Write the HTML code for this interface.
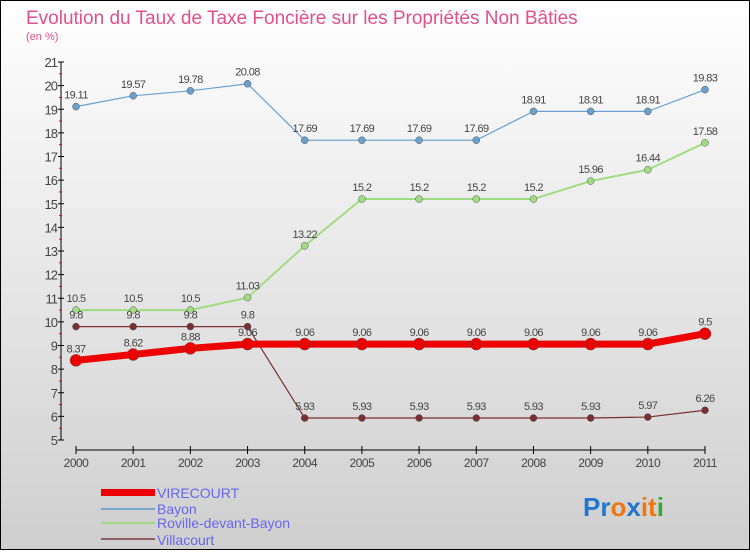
<!DOCTYPE html>
<html><head><meta charset="utf-8"><style>
body{margin:0;width:750px;height:550px;overflow:hidden;font-family:"Liberation Sans",sans-serif}
svg text{font-family:"Liberation Sans",sans-serif}
</style></head><body>
<svg id="c" width="750" height="550">
<defs><linearGradient id="bg" x1="0" y1="0" x2="0" y2="1"><stop offset="0" stop-color="#ffffff"/><stop offset="1" stop-color="#cfcfcf"/></linearGradient></defs>
<rect x="0" y="0" width="750" height="550" fill="url(#bg)" stroke="#000" stroke-width="2"/>
<text x="26" y="24" font-size="19" fill="#e0508a">Evolution du Taux de Taxe Foncière sur les Propriétés Non Bâties</text>
<text x="26" y="40" font-size="11" fill="#e0508a">(en %)</text>
<g id="g"></g>
<g>
<rect x="101" y="489" width="54" height="7" fill="#ee0000"/>
<text x="157" y="498" font-size="14" fill="#6666ee">VIRECOURT</text>
<rect x="101" y="508" width="54" height="2" fill="#7aa6cc"/>
<text x="157" y="514" font-size="14" fill="#6666ee">Bayon</text>
<rect x="101" y="522" width="54" height="2" fill="#a0d880"/>
<text x="157" y="528" font-size="14" fill="#6666ee">Roville-devant-Bayon</text>
<rect x="101" y="538" width="54" height="2" fill="#906060"/>
<text x="157" y="545" font-size="14" fill="#6666ee">Villacourt</text>
</g>
<text x="583" y="516" font-size="26" font-weight="bold"><tspan fill="#2277cc">Pr</tspan><tspan fill="#ee7711">o</tspan><tspan fill="#2277cc">x</tspan><tspan fill="#ee7711">it</tspan><tspan fill="#33aa33">i</tspan></text>
</svg>
<script>
const years=[2000,2001,2002,2003,2004,2005,2006,2007,2008,2009,2010,2011];
const virecourt=[8.37,8.62,8.88,9.06,9.06,9.06,9.06,9.06,9.06,9.06,9.06,9.5];
const bayon=[19.11,19.57,19.78,20.08,17.69,17.69,17.69,17.69,18.91,18.91,18.91,19.83];
const roville=[10.5,10.5,10.5,11.03,13.22,15.2,15.2,15.2,15.2,15.96,16.44,17.58];
const villacourt=[9.8,9.8,9.8,9.8,5.93,5.93,5.93,5.93,5.93,5.93,5.97,6.26];
const yTicks=[5,6,7,8,9,10,11,12,13,14,15,16,17,18,19,20,21];
const NS="http://www.w3.org/2000/svg";
const g=document.getElementById('g');
const x=i=>76+i*(705-76)/(years.length-1);
const y=v=>440-(v-5)*(440-62)/16;
function el(t,a,p){const e=document.createElementNS(NS,t);for(const k in a)e.setAttribute(k,a[k]);(p||g).appendChild(e);return e;}
// axes
let e=el('line',{x1:61,y1:y(21),x2:61,y2:y(5),stroke:'#000','stroke-width':1});


yTicks.forEach(v=>{
 let t=el('line',{x1:58,x2:64,y1:y(v),y2:y(v),stroke:'#000'});
 
 
 if(v<21){let m=el('line',{x1:59,x2:62,y1:y(v+0.5),y2:y(v+0.5),stroke:'#e00'});
 
 }
 let l=el('text',{x:57,y:y(v)+5,'text-anchor':'end','font-size':13,fill:'#444','letter-spacing':'-1'});
 l.textContent=v;
 
 
});
e=el('line',{x1:x(0),y1:450,x2:x(11),y2:450,stroke:'#000'});


years.forEach((yr,i)=>{
 let t=el('line',{x1:x(i),x2:x(i),y1:446,y2:454,stroke:'#000'});
 
 
 let l=el('text',{x:x(i),y:467,'text-anchor':'middle','font-size':12,fill:'#444','letter-spacing':'-0.5'});
 l.textContent=yr;
 
 
});
function series(vals,color,w,r,name){
 let p=el('polyline',{points:vals.map((v,i)=>x(i)+','+y(v)).join(' '),fill:'none',stroke:color,'stroke-width':w});
 
 
 vals.forEach((v,i)=>{
  let c=el('circle',{cx:x(i),cy:y(v),r:r,fill:color,stroke:'#555','stroke-width':0.5});
  
  
  let l=el('text',{x:x(i),y:y(v)-8,'text-anchor':'middle','font-size':11,fill:'#444','letter-spacing':'-0.6'});
  l.textContent=v;
  
  
 });
}
series(bayon,'#6aa0d0',1.2,3.5,'bayon');
series(roville,'#a0dd80',2,3.5,'roville');
series(villacourt,'#7a3030',1.2,3.5,'villacourt');
series(virecourt,'#ee0000',7,6,'virecourt');
</script>
</body></html>
